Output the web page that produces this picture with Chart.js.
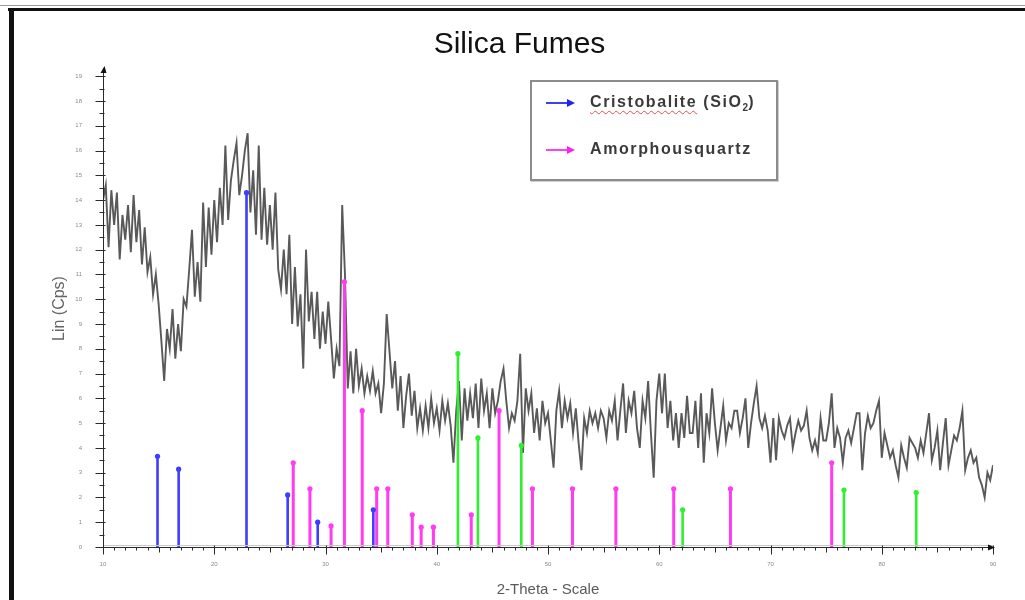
<!DOCTYPE html>
<html>
<head>
<meta charset="utf-8">
<title>Silica Fumes</title>
<script src="https://cdn.jsdelivr.net/npm/chart.js@4.4.1/dist/chart.umd.min.js"></script>
<style>
    body { margin: 0; background: #fff; }
    #wrap { position: relative; width: 1025px; height: 600px; overflow: hidden; }
    #chart { position: absolute; left: 0; top: 0; }
    .frame { position: absolute; pointer-events: none; }
    #legend {
        position: absolute; left: 530px; top: 80px; width: 244px; height: 97px;
        border: 2px solid #8c8c8c; background: #fff;
        box-shadow: 1px 1px 0 #d0d0d0;
        font-family: 'Liberation Sans', Arial, sans-serif;
    }
    #legend .row { position: absolute; left: 12px; height: 20px; }
    #legend svg { position: absolute; left: 0; top: 3px; }
    #legend span.txt {
        position: absolute; left: 46px; top: 0; white-space: nowrap;
        font-size: 16px; font-weight: bold; color: #3a3a3a; letter-spacing: 1.6px;
    }
    #legend .spell { text-decoration: underline wavy #e05050; text-decoration-thickness: 1px; text-underline-offset: 3px; }
    #legend sub { font-size: 10px; letter-spacing: 0; }
</style>
</head>
<body>
<div id="wrap">
    <canvas id="chart" width="1025" height="600"></canvas>
    <div class="frame" style="left:0; top:5px; width:1025px; height:1px; background:#9a9a9a;"></div>
    <div class="frame" style="left:8px; top:8px; width:1017px; height:3px; background:#111;"></div>
    <div class="frame" style="left:9px; top:8px; width:5px; height:592px; background:#111;"></div>
    <div id="legend">
        <div class="row" style="top:11px;">
            <svg width="32" height="14"><line x1="2" y1="7" x2="24" y2="7" stroke="#3d3dff" stroke-width="2"/><polygon points="23,3 31,7 23,11" fill="#2222ee"/></svg>
            <span class="txt"><span class="spell">Cristobalite</span> (SiO<sub>2</sub>)</span>
        </div>
        <div class="row" style="top:58px;">
            <svg width="32" height="14"><line x1="2" y1="7" x2="24" y2="7" stroke="#ff40f0" stroke-width="2"/><polygon points="23,3 31,7 23,11" fill="#ff22ee"/></svg>
            <span class="txt">Amorphousquartz</span>
        </div>
    </div>
</div>
<script>
// Measured pattern, one reading every 0.25 degree from 10 to 90 (2-Theta)
const scanStart = 10;
const scanStep = 0.25;
const scanCounts = [
    14.0, 14.6, 12.1, 14.4, 13.0, 14.3, 11.6, 13.4, 12.4, 13.8, 11.9, 14.2,
    12.3, 13.6, 11.4, 12.9, 11.1, 11.7, 10.2, 11.0, 9.8, 8.3, 6.7, 8.8,
    8.0, 9.6, 7.6, 9.0, 7.9, 10.0, 9.7, 11.2, 12.8, 10.1, 11.5, 9.9,
    13.9, 11.3, 13.7, 11.8, 14.0, 12.3, 14.5, 13.0, 16.2, 13.2, 14.8, 15.6,
    16.3, 14.2, 15.0, 16.0, 16.7, 13.5, 15.2, 12.6, 16.2, 12.4, 14.5, 12.2,
    13.8, 12.0, 14.3, 11.2, 10.4, 12.0, 10.2, 12.6, 9.0, 11.3, 8.9, 10.2,
    7.2, 12.0, 9.1, 10.3, 8.4, 10.3, 8.0, 9.5, 8.2, 9.9, 8.4, 6.8,
    8.0, 7.3, 13.8, 11.0, 6.4, 7.9, 6.2, 8.0, 6.5, 7.2, 6.2, 6.9,
    6.3, 7.1, 6.2, 6.6, 5.4, 6.6, 9.4, 7.9, 6.4, 7.5, 5.5, 6.9,
    4.8, 6.1, 7.0, 5.3, 6.3, 4.8, 5.6, 4.7, 5.7, 4.8, 6.0, 5.0,
    5.6, 4.7, 5.9, 5.1, 5.8, 4.9, 3.4, 5.5, 6.7, 4.3, 6.4, 5.1,
    6.2, 5.2, 6.6, 4.8, 6.8, 5.5, 6.2, 4.8, 6.4, 5.4, 5.9, 6.7,
    7.2, 5.9, 4.8, 5.4, 5.1, 5.9, 7.8, 3.8, 6.4, 5.5, 6.2, 4.6,
    5.6, 4.3, 5.9, 5.0, 5.4, 4.3, 3.2, 5.5, 6.3, 4.8, 5.9, 5.2,
    5.8, 4.6, 5.6, 4.2, 3.1, 5.2, 4.6, 5.5, 5.0, 5.4, 4.8, 5.5,
    5.2, 4.4, 5.5, 5.1, 5.9, 4.3, 5.5, 6.6, 4.6, 5.9, 5.4, 6.3,
    4.8, 4.0, 5.9, 5.2, 6.7, 4.6, 2.8, 5.9, 7.0, 5.4, 7.0, 4.8,
    5.9, 4.3, 5.4, 4.0, 5.4, 4.4, 6.1, 4.6, 4.6, 5.9, 4.0, 6.2,
    3.4, 5.4, 4.6, 6.4, 5.0, 3.9, 4.8, 5.7, 4.3, 5.0, 4.8, 5.5,
    5.5, 4.6, 5.2, 6.0, 4.0, 5.0, 5.8, 6.5, 5.2, 4.8, 5.3, 4.7,
    3.4, 5.2, 3.5, 5.2, 4.7, 4.4, 4.9, 5.2, 4.0, 4.6, 5.1, 4.7,
    4.9, 5.5, 4.4, 3.9, 4.3, 3.8, 5.2, 4.3, 4.3, 5.0, 6.2, 4.0,
    4.8, 4.4, 3.4, 4.4, 4.7, 4.2, 4.8, 5.4, 5.4, 3.1, 4.6, 5.3,
    4.8, 5.0, 5.5, 5.9, 3.6, 4.6, 4.1, 3.6, 3.9, 3.3, 2.8, 4.1,
    3.6, 3.2, 4.4, 4.2, 4.0, 3.6, 4.3, 3.8, 4.6, 5.4, 3.5, 4.0,
    4.7, 3.1, 4.2, 5.2, 3.3, 3.9, 4.5, 4.3, 4.8, 5.5, 3.1, 3.6,
    3.9, 3.4, 3.6, 2.8, 2.5, 2.0, 3.0, 2.7, 3.3
];

// Reference lines (peak position, height)
const cristobaliteAngles = [14.9, 16.8, 22.9, 26.6, 29.3, 34.3];
const cristobaliteHeights = [3.66, 3.14, 14.3, 2.1, 1.0, 1.5];

const quartzAngles = [27.1, 28.6, 30.5, 31.7, 33.3, 34.6, 35.6, 37.8, 38.6, 39.7, 43.1, 45.6, 48.6, 52.2, 56.1, 61.3, 66.4, 75.5];
const quartzHeights = [3.4, 2.35, 0.85, 10.7, 5.5, 2.35, 2.35, 1.3, 0.8, 0.8, 1.3, 5.5, 2.35, 2.35, 2.35, 2.35, 2.35, 3.4];

const otherAngles = [41.9, 43.7, 47.6, 62.1, 76.6, 83.1];
const otherHeights = [7.8, 4.4, 4.1, 1.5, 2.3, 2.2];

// Axis ranges
const xMin = 10;
const xMax = 90;
const yMin = 0;
const yMax = 19.25;

const fontFamily = "'Liberation Sans', Arial, sans-serif";

// Turn a list of peaks into vertical sticks (base, top, gap)
function stickPoints(angles, heights) {
    const pts = [];
    angles.forEach((a, i) => {
        pts.push({ x: a, y: 0 });
        pts.push({ x: a, y: heights[i] });
        pts.push({ x: a, y: null });
    });
    return pts;
}

function stickDataset(angles, heights, color, width) {
    return {
        data: stickPoints(angles, heights),
        borderColor: color,
        backgroundColor: color,
        borderWidth: width,
        pointRadius: ctx => (ctx.dataIndex % 3 === 1 ? 2.6 : 0),
        pointBorderWidth: 0,
        spanGaps: false,
        order: 0
    };
}

// Tick marks, axis lines and arrow heads
const axisDecor = {
    id: 'axisDecor',
    afterDraw(chart) {
        const { ctx, chartArea } = chart;
        const x = chart.scales.x;
        const y = chart.scales.y;
        const left = chartArea.left + 0.5;
        const bottom = chartArea.bottom + 0.5;

        ctx.save();
        ctx.fillStyle = '#111';
        ctx.lineWidth = 1;

        // light shadow along the x axis
        ctx.strokeStyle = '#c8c8c8';
        ctx.beginPath();
        ctx.moveTo(left, bottom - 2);
        ctx.lineTo(chartArea.right, bottom - 2);
        ctx.stroke();

        ctx.strokeStyle = '#2a2a2a';
        ctx.beginPath();
        ctx.moveTo(left, chartArea.top - 2);
        ctx.lineTo(left, bottom);
        ctx.lineTo(chartArea.right, bottom);
        ctx.stroke();

        // x ticks every degree
        for (let v = xMin; v <= xMax; v++) {
            const px = Math.round(x.getPixelForValue(v)) + 0.5;
            const len = v % 10 === 0 ? 7 : (v % 5 === 0 ? 5 : 3);
            ctx.beginPath();
            ctx.moveTo(px, bottom - (v % 10 === 0 ? 2 : 0));
            ctx.lineTo(px, bottom + len);
            ctx.stroke();
        }

        // y ticks every half unit
        for (let i = 0; i <= 38; i++) {
            const v = i / 2;
            const py = Math.round(y.getPixelForValue(v)) + 0.5;
            const len = i % 2 === 0 ? 8 : 4;
            ctx.beginPath();
            ctx.moveTo(left - len, py);
            ctx.lineTo(left + (i % 2 === 0 ? 2 : 1), py);
            ctx.stroke();
        }

        // arrow heads
        ctx.beginPath();
        ctx.moveTo(left - 3, chartArea.top + 3);
        ctx.lineTo(left + 3, chartArea.top + 3);
        ctx.lineTo(left + 1, chartArea.top - 4);
        ctx.closePath();
        ctx.fill();

        ctx.beginPath();
        ctx.moveTo(chartArea.right - 5, bottom - 3);
        ctx.lineTo(chartArea.right + 2, bottom);
        ctx.lineTo(chartArea.right - 5, bottom + 3);
        ctx.closePath();
        ctx.fill();

        ctx.restore();
    }
};

const ctx = document.getElementById('chart').getContext('2d');

new Chart(ctx, {
    type: 'line',
    data: {
        datasets: [
            stickDataset(cristobaliteAngles, cristobaliteHeights, '#3d3dff', 2.6),
            stickDataset(quartzAngles, quartzHeights, '#ff3cf0', 3),
            stickDataset(otherAngles, otherHeights, '#2ff02f', 2.6),
            {
                data: scanCounts.map((c, i) => ({ x: scanStart + i * scanStep, y: c })),
                borderColor: 'rgba(60, 60, 60, 0.85)',
                borderWidth: 1.9,
                pointRadius: 0,
                tension: 0,
                order: 1
            }
        ]
    },
    options: {
        responsive: false,
        animation: false,
        layout: {
            padding: { top: 20, left: 46, right: 32, bottom: 0 }
        },
        plugins: {
            legend: { display: false },
            tooltip: { enabled: false },
            title: {
                display: true,
                text: 'Silica Fumes',
                color: '#111',
                font: { family: fontFamily, size: 30, weight: 'normal' },
                padding: { top: 7, bottom: 7 }
            }
        },
        scales: {
            x: {
                type: 'linear',
                min: xMin,
                max: xMax,
                grid: { display: false },
                border: { display: false },
                ticks: {
                    stepSize: 10,
                    padding: 6,
                    maxRotation: 0,
                    color: '#8a8a8a',
                    font: { family: fontFamily, size: 6 }
                },
                title: {
                    display: true,
                    text: '2-Theta - Scale',
                    color: '#5a5a5a',
                    font: { family: fontFamily, size: 15 },
                    padding: { top: 0, bottom: 1 }
                },
                afterFit: scale => { scale.height = 53; }
            },
            y: {
                type: 'linear',
                min: yMin,
                max: yMax,
                grid: { display: false },
                border: { display: false },
                ticks: {
                    stepSize: 1,
                    includeBounds: false,
                    padding: 13,
                    color: '#8a8a8a',
                    font: { family: fontFamily, size: 6 }
                },
                title: {
                    display: true,
                    text: 'Lin (Cps)',
                    color: '#666',
                    font: { family: fontFamily, size: 16 },
                    padding: { top: 4, bottom: 0 }
                },
                afterFit: scale => { scale.width = 57; }
            }
        }
    },
    plugins: [axisDecor]
});
</script>
</body>
</html>
